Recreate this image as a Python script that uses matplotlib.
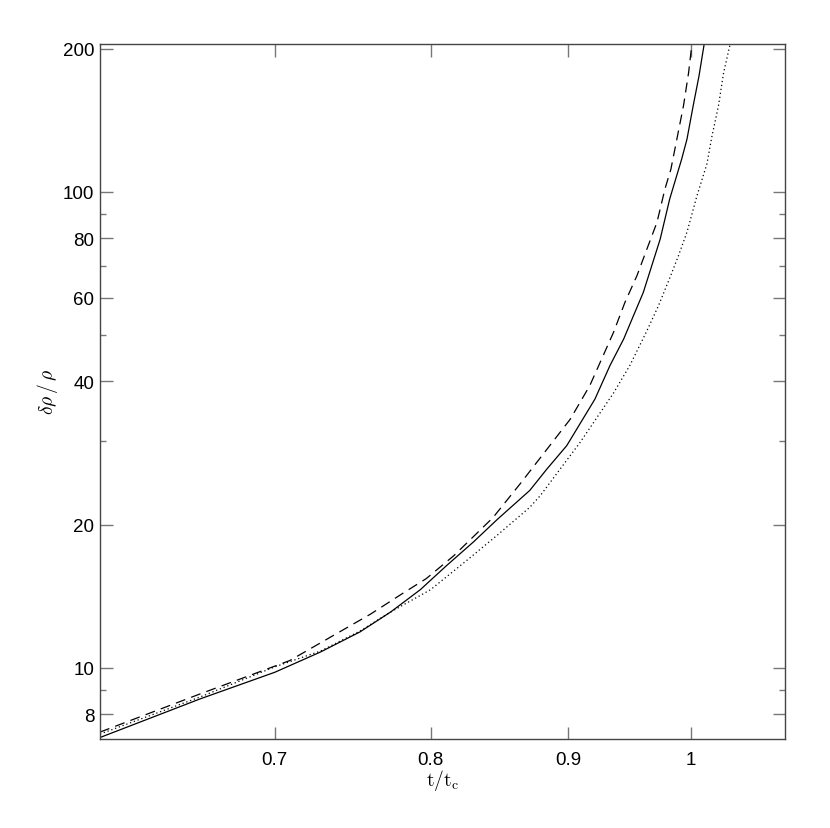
import matplotlib
matplotlib.use("Agg")
import matplotlib.pyplot as plt
from matplotlib.ticker import NullLocator, NullFormatter

# values (t/t_c, delta rho / rho)
t_solid = [0.6026, 0.6567, 0.700, 0.728, 0.753, 0.773, 0.793, 0.811, 0.830, 0.847,
           0.871, 0.884, 0.899, 0.921, 0.933, 0.944, 0.952, 0.960, 0.967, 0.974,
           0.982, 0.992, 0.9966, 1.002, 1.0069, 1.0115]
d_solid = [7.14, 8.61, 9.79, 10.8, 11.9, 13.1, 14.6, 16.4, 18.4, 20.5,
           23.6, 26.2, 29.3, 36.7, 43.2, 49.1, 55.0, 61.5, 70.0, 79.6,
           96.7, 117, 129, 152, 175, 205]

t_dashed = [0.6026, 0.6567, 0.709, 0.738, 0.760, 0.782, 0.797, 0.816, 0.844, 0.864,
            0.9017, 0.917, 0.9358, 0.945, 0.9548, 0.963, 0.9713, 0.978, 0.983, 0.9937,
            0.998, 1.0009]
d_dashed = [7.33, 8.82, 10.36, 11.8, 12.98, 14.4, 15.4, 17.2, 20.7, 24.4,
            33.3, 39.2, 50.7, 58.6, 66.7, 75.9, 86.3, 101.5, 111.7, 152,
            178, 205]

t_dotted = [0.6026, 0.6567, 0.700, 0.728, 0.753, 0.773, 0.800, 0.825, 0.847, 0.871,
            0.8788, 0.9095, 0.9358, 0.949, 0.963, 0.9726, 0.9824, 0.9894, 0.9966, 1.0052,
            1.0138, 1.0182, 1.0239, 1.0284, 1.0343]
d_dotted = [7.26, 8.69, 10.05, 10.85, 11.95, 13.1, 14.6, 16.8, 19.0, 21.75,
            23.0, 29.8, 37.8, 43.2, 51.1, 57.7, 66.3, 73.5, 82.3, 98.2,
            114.5, 131, 151.7, 178, 205]

x_ticks = [0.7, 0.8, 0.9, 1.0]
x_tick_labels = ["0.7", "0.8", "0.9", "1"]
y_ticks = [8, 10, 20, 40, 60, 80, 100, 200]
y_tick_labels = ["8", "10", "20", "40", "60", "80", "100", "200"]
y_minor_ticks = [9, 30, 50, 70, 90]


def plot_growth():
    """
    Draws the three density contrast curves on log-log axes and saves out.png.
    """
    plt.rcParams["font.family"] = ["Liberation Sans", "DejaVu Sans"]
    plt.rcParams["mathtext.fontset"] = "cm"

    fig = plt.figure(figsize=(8.30, 8.29), dpi=100)
    ax = fig.add_axes([0.1205, 0.1074, 0.8253, 0.8383])

    ax.plot(t_solid, d_solid, color="black", lw=0.9)
    ax.plot(t_dashed, d_dashed, color="black", lw=0.9, dashes=(8, 5))
    ax.plot(t_dotted, d_dotted, color="black", lw=0.9, dashes=(1, 2.2))

    ax.set_xscale("log")
    ax.set_yscale("log")
    ax.set_xlim(0.6026, 1.084)
    ax.set_ylim(7.09, 204.6)

    ax.set_xticks(x_ticks, x_tick_labels)
    ax.xaxis.set_minor_locator(NullLocator())
    ax.xaxis.set_minor_formatter(NullFormatter())
    ax.set_yticks(y_ticks, y_tick_labels)
    ax.set_yticks(y_minor_ticks, minor=True)
    ax.yaxis.set_minor_formatter(NullFormatter())

    ax.tick_params(which="both", direction="in", top=True, right=True,
                   color="#777777", width=1.0, labelsize=13.5)
    ax.tick_params(which="major", length=9, pad=4)
    ax.tick_params(which="minor", length=4.5)
    ax.tick_params(axis="x", pad=9)
    for spine in ax.spines.values():
        spine.set_color("#444444")
        spine.set_linewidth(1.0)

    ax.set_xlabel(r"$\mathrm{t/t_c}$", fontsize=14, labelpad=-1)
    ax.set_ylabel(r"$\delta\rho\,/\,\rho$", fontsize=14, labelpad=2)

    fig.savefig("out.png", dpi=100)
    print("out.png saved!")


if __name__ == '__main__':
    plot_growth()
